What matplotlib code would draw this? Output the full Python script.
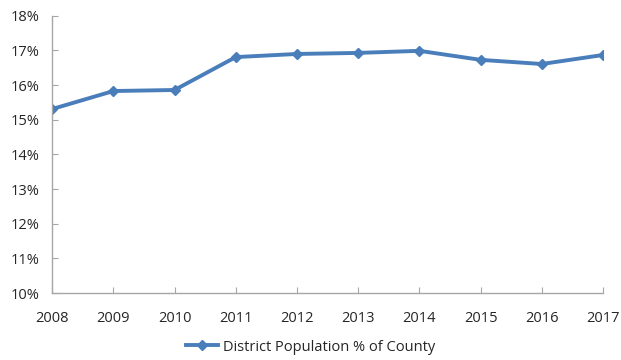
import matplotlib.pyplot as plt
from matplotlib.ticker import FuncFormatter

# Données
annees = [2008, 2009, 2010, 2011, 2012, 2013, 2014, 2015, 2016, 2017]
part_district = [15.31, 15.83, 15.86, 16.81, 16.90, 16.93, 16.99, 16.73, 16.61, 16.87]

plt.rcParams['font.family'] = ['Open Sans', 'DejaVu Sans']

fig = plt.figure(figsize=(6.21, 3.6), dpi=100)
ax = fig.add_axes([0.084, 0.186, 0.887, 0.770])

bleu = '#4A7EBB'
ax.plot(annees, part_district, color=bleu, linewidth=2.8, marker='D',
        markersize=5.5, label='District Population % of County')

ax.set_xlim(2008, 2017)
ax.set_ylim(10, 18)
ax.set_xticks(annees)
ax.set_yticks(range(10, 19))
ax.yaxis.set_major_formatter(FuncFormatter(lambda v, p: f'{v:.0f}%'))

for s in ['top', 'right']:
    ax.spines[s].set_visible(False)
for s in ['left', 'bottom']:
    ax.spines[s].set_color('#A6A6A6')
    ax.spines[s].set_linewidth(1)
ax.tick_params(direction='in', length=4, color='#A6A6A6', labelsize=10.5,
               labelcolor='#262626')
ax.tick_params(axis='x', pad=13)
ax.tick_params(axis='y', pad=9)

fig.legend(loc='center', bbox_to_anchor=(0.5, 0.036), frameon=False,
           fontsize=10.5, handlelength=2.2, handletextpad=0.3,
           labelcolor='#262626')

fig.savefig('out.png', dpi=100)
